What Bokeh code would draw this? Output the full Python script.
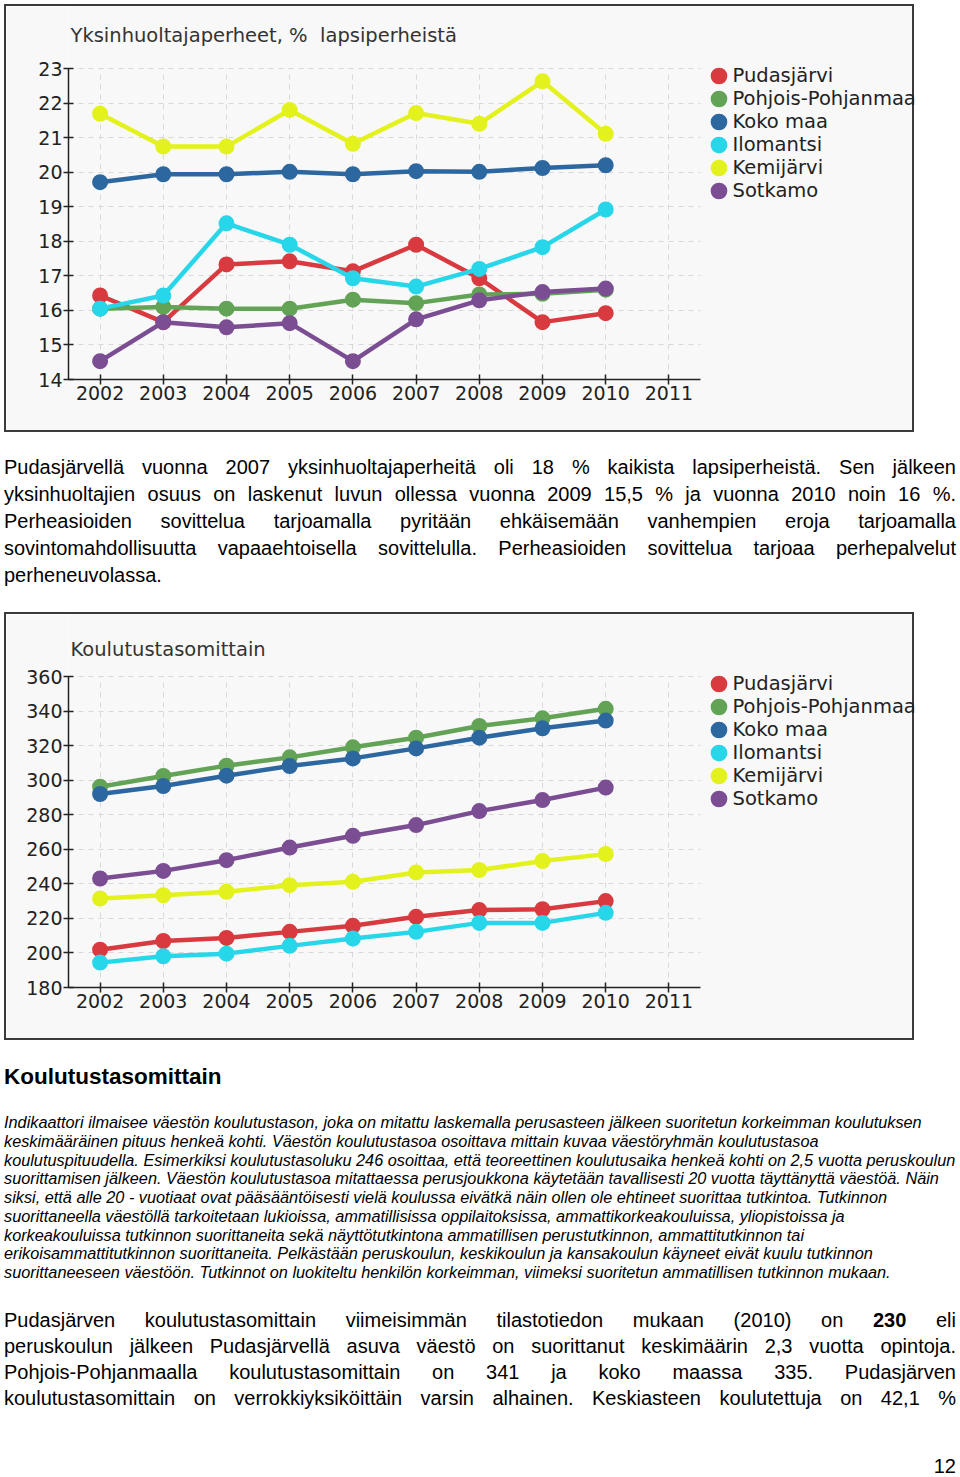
from bokeh.plotting import figure
from bokeh.models import Range1d, FixedTicker, Legend, LegendItem, Div, Label, Grid
from bokeh.layouts import column
from bokeh.embed import file_html
from bokeh.resources import INLINE

# ---------------- data ----------------
years = [2002, 2003, 2004, 2005, 2006, 2007, 2008, 2009, 2010]
x_ticks = [2002, 2003, 2004, 2005, 2006, 2007, 2008, 2009, 2010, 2011]
series_names = ["Pudasjärvi", "Pohjois-Pohjanmaa", "Koko maa", "Ilomantsi", "Kemijärvi", "Sotkamo"]
series_colors = ["#d93a3f", "#62a356", "#2c679f", "#28d6ea", "#e3f21c", "#7b4d92"]

# chart 1: Yksinhuoltajaperheet, % lapsiperheistä
c1_title = "Yksinhuoltajaperheet, %\u00a0 lapsiperheistä"
c1_yticks = [14, 15, 16, 17, 18, 19, 20, 21, 22, 23]
c1_pudasjarvi = [16.43, 15.66, 17.33, 17.42, 17.13, 17.90, 16.93, 15.66, 15.92]
c1_pohjois = [16.05, 16.10, 16.05, 16.05, 16.31, 16.21, 16.46, 16.48, 16.60]
c1_koko = [19.71, 19.94, 19.94, 20.01, 19.94, 20.03, 20.01, 20.12, 20.20]
c1_ilomantsi = [16.05, 16.43, 18.52, 17.90, 16.93, 16.69, 17.20, 17.83, 18.92]
c1_kemijarvi = [21.69, 20.74, 20.74, 21.80, 20.82, 21.71, 21.40, 22.63, 21.11]
c1_sotkamo = [14.53, 15.66, 15.51, 15.63, 14.53, 15.74, 16.29, 16.53, 16.63]

# chart 2: Koulutustasomittain
c2_title = "Koulutustasomittain"
c2_yticks = [180, 200, 220, 240, 260, 280, 300, 320, 340, 360]
c2_pudasjarvi = [201.9, 206.9, 208.7, 212.2, 215.7, 220.9, 224.8, 225.3, 230.0]
c2_pohjois = [296.2, 302.4, 308.4, 313.2, 319.0, 324.6, 331.4, 335.8, 341.3]
c2_koko = [292.0, 296.6, 302.6, 308.2, 312.6, 318.4, 324.6, 330.0, 334.5]
c2_ilomantsi = [194.4, 198.1, 199.6, 204.1, 208.3, 212.2, 217.4, 217.4, 223.2]
c2_kemijarvi = [231.5, 233.4, 235.4, 239.2, 241.2, 246.6, 248.0, 253.2, 257.2]
c2_sotkamo = [243.1, 247.5, 253.7, 261.0, 267.8, 274.0, 282.1, 288.5, 295.7]

CHART_FONT = "DejaVu Sans"
TEXT_FONT = "Liberation Sans"

# layout constants (pixels)
FIG_W, FIG_H = 910, 428
B_LEFT, B_BOTTOM = 62, 55
AXIS_H = 311          # height of the y-axis span
AXIS_W = 632          # width of the x-axis span
FRAME_H = FIG_H - B_BOTTOM
FRAME_W = FIG_W - B_LEFT
HAS_CROSS = "cross_bounds" in Grid.properties()


def make_chart(title, yticks, series, title_y):
    x0, x1 = x_ticks[0] - 0.5, x_ticks[-1] + 0.5
    x_end = x0 + (x1 - x0) * FRAME_W / AXIS_W
    y0, y1 = yticks[0], yticks[-1]
    y_end = y0 + (y1 - y0) * FRAME_H / AXIS_H
    p = figure(width=FIG_W, height=FIG_H, output_backend="svg", toolbar_location=None,
               x_range=Range1d(x0, x_end), y_range=Range1d(y0, y_end),
               min_border_left=B_LEFT, min_border_right=0, min_border_top=0,
               min_border_bottom=B_BOTTOM,
               background_fill_color="#f8f8f8", border_fill_color="#f8f8f8",
               outline_line_color=None,
               styles={"border": "2px solid #3a3a3a"})

    p.add_layout(Label(x=2, y=FRAME_H - title_y, x_units="screen", y_units="screen",
                       text=title, text_font=CHART_FONT, text_font_size="19.5px",
                       text_color="#333333", text_baseline="middle", text_align="left"))

    for ax in (p.xaxis[0], p.yaxis[0]):
        ax.axis_line_color = "#222222"
        ax.axis_line_width = 1.5
        ax.major_tick_line_color = "#222222"
        ax.major_tick_line_width = 1.5
        ax.major_tick_in = 5
        ax.major_tick_out = 5
        ax.minor_tick_line_color = None
        ax.major_label_text_font = CHART_FONT
        ax.major_label_text_font_size = "19px"
        ax.major_label_text_color = "#222222"
        ax.major_label_standoff = 1
    p.xaxis.bounds = (x0, x1)
    p.yaxis.bounds = (y0, y1)
    p.xaxis.ticker = FixedTicker(ticks=x_ticks)
    p.yaxis.ticker = FixedTicker(ticks=yticks)
    p.xgrid.ticker = FixedTicker(ticks=x_ticks)
    p.ygrid.ticker = FixedTicker(ticks=yticks)
    if HAS_CROSS:
        p.xgrid.cross_bounds = (y0, y1)
        p.ygrid.cross_bounds = (x0, x1)
    for g in (p.xgrid[0], p.ygrid[0]):
        g.grid_line_color = "#d8d8d8"
        g.grid_line_dash = "5 5"
        g.grid_line_width = 1

    items = []
    for name, color, vals in series:
        p.line(years, vals, line_color=color, line_width=4.5)
        r = p.scatter(years, vals, size=8.5, fill_color=color, line_color=color, line_width=7.5)
        items.append(LegendItem(label=name, renderers=[r]))
    # location = bottom-left corner of the legend, relative to the frame's bottom-left
    leg = Legend(items=items, location=(AXIS_W + 6.5, 177.5), padding=0, margin=0,
                 border_line_color=None, background_fill_alpha=0,
                 glyph_width=23, glyph_height=23, label_height=23, spacing=0,
                 label_standoff=3,
                 label_text_font=CHART_FONT, label_text_font_size="19.5px",
                 label_text_color="#222222")
    p.add_layout(leg)
    return p


s1 = list(zip(series_names, series_colors,
              [c1_pudasjarvi, c1_pohjois, c1_koko, c1_ilomantsi, c1_kemijarvi, c1_sotkamo]))
s2 = list(zip(series_names, series_colors,
              [c2_pudasjarvi, c2_pohjois, c2_koko, c2_ilomantsi, c2_kemijarvi, c2_sotkamo]))

p1 = make_chart(c1_title, c1_yticks, s1, 29)
p2 = make_chart(c2_title, c2_yticks, s2, 35)
p1.margin = (0, 0, 0, 0)
p2.margin = (23, 0, 0, 0)

W = 952
J = f"width:{W}px;text-align:justify;text-align-last:justify;white-space:nowrap;"
par1_lines = [
    "Pudasjärvellä vuonna 2007 yksinhuoltajaperheitä oli 18 % kaikista lapsiperheistä. Sen jälkeen",
    "yksinhuoltajien osuus on laskenut luvun ollessa vuonna 2009 15,5 % ja vuonna 2010 noin 16 %.",
    "Perheasioiden sovittelua tarjoamalla pyritään ehkäisemään vanhempien eroja tarjoamalla",
    "sovintomahdollisuutta vapaaehtoisella sovittelulla. Perheasioiden sovittelua tarjoaa perhepalvelut",
]
par1_last = "perheneuvolassa."
html1 = "".join(f'<div style="{J}">{ln}</div>' for ln in par1_lines) + \
    f'<div style="width:{W}px">{par1_last}</div>'
d1 = Div(text=html1, width=W, margin=(22, 0, 0, 0),
         styles={"font-family": TEXT_FONT, "font-size": "20px", "line-height": "27px", "color": "#000"})

d_head = Div(text=f'<div style="width:{W}px"><b>Koulutustasomittain</b></div>', width=W,
             margin=(24, 0, 0, 0),
             styles={"font-family": TEXT_FONT, "font-size": "22.5px", "line-height": "26px", "color": "#000"})

ital_lines = [
    "Indikaattori ilmaisee väestön koulutustason, joka on mitattu laskemalla perusasteen jälkeen suoritetun korkeimman koulutuksen",
    "keskimääräinen pituus henkeä kohti. Väestön koulutustasoa osoittava mittain kuvaa väestöryhmän koulutustasoa",
    "koulutuspituudella. Esimerkiksi koulutustasoluku 246 osoittaa, että teoreettinen koulutusaika henkeä kohti on 2,5 vuotta peruskoulun",
    "suorittamisen jälkeen. Väestön koulutustasoa mitattaessa perusjoukkona käytetään tavallisesti 20 vuotta täyttänyttä väestöä. Näin",
    "siksi, että alle 20 - vuotiaat ovat pääsääntöisesti vielä koulussa eivätkä näin ollen ole ehtineet suorittaa tutkintoa. Tutkinnon",
    "suorittaneella väestöllä tarkoitetaan lukioissa, ammatillisissa oppilaitoksissa, ammattikorkeakouluissa, yliopistoissa ja",
    "korkeakouluissa tutkinnon suorittaneita sekä näyttötutkintona ammatillisen perustutkinnon, ammattitutkinnon tai",
    "erikoisammattitutkinnon suorittaneita. Pelkästään peruskoulun, keskikoulun ja kansakoulun käyneet eivät kuulu tutkinnon",
    "suorittaneeseen väestöön. Tutkinnot on luokiteltu henkilön korkeimman, viimeksi suoritetun ammatillisen tutkinnon mukaan.",
]
html_it = "".join(f'<div style="width:{W}px;white-space:nowrap">{ln}</div>' for ln in ital_lines)
d_it = Div(text=html_it, width=W, margin=(23, 0, 0, 0),
           styles={"font-family": TEXT_FONT, "font-size": "16.3px", "line-height": "18.75px",
                   "font-style": "italic", "color": "#000"})

par3_lines = [
    "Pudasjärven koulutustasomittain viimeisimmän tilastotiedon mukaan (2010) on <b>230</b> eli",
    "peruskoulun jälkeen Pudasjärvellä asuva väestö on suorittanut keskimäärin 2,3 vuotta opintoja.",
    "Pohjois-Pohjanmaalla koulutustasomittain on 341 ja koko maassa 335. Pudasjärven",
    "koulutustasomittain on verrokkiyksiköittäin varsin alhainen. Keskiasteen koulutettuja on 42,1 %",
]
html3 = "".join(f'<div style="{J}">{ln}</div>' for ln in par3_lines)
d3 = Div(text=html3, width=W, margin=(25, 0, 0, 0),
         styles={"font-family": TEXT_FONT, "font-size": "20px", "line-height": "26px", "color": "#000"})

d_page = Div(text=f'<div style="width:{W}px;text-align:right">12</div>', width=W, margin=(45, 0, 0, 0),
             styles={"font-family": TEXT_FONT, "font-size": "20px", "line-height": "20px", "color": "#000"})

layout = column(p1, d1, p2, d_head, d_it, d3, d_page, spacing=0,
                styles={"margin": "4px 0 -12px 4px"})

open("out.html", "w").write(file_html(layout, INLINE))
